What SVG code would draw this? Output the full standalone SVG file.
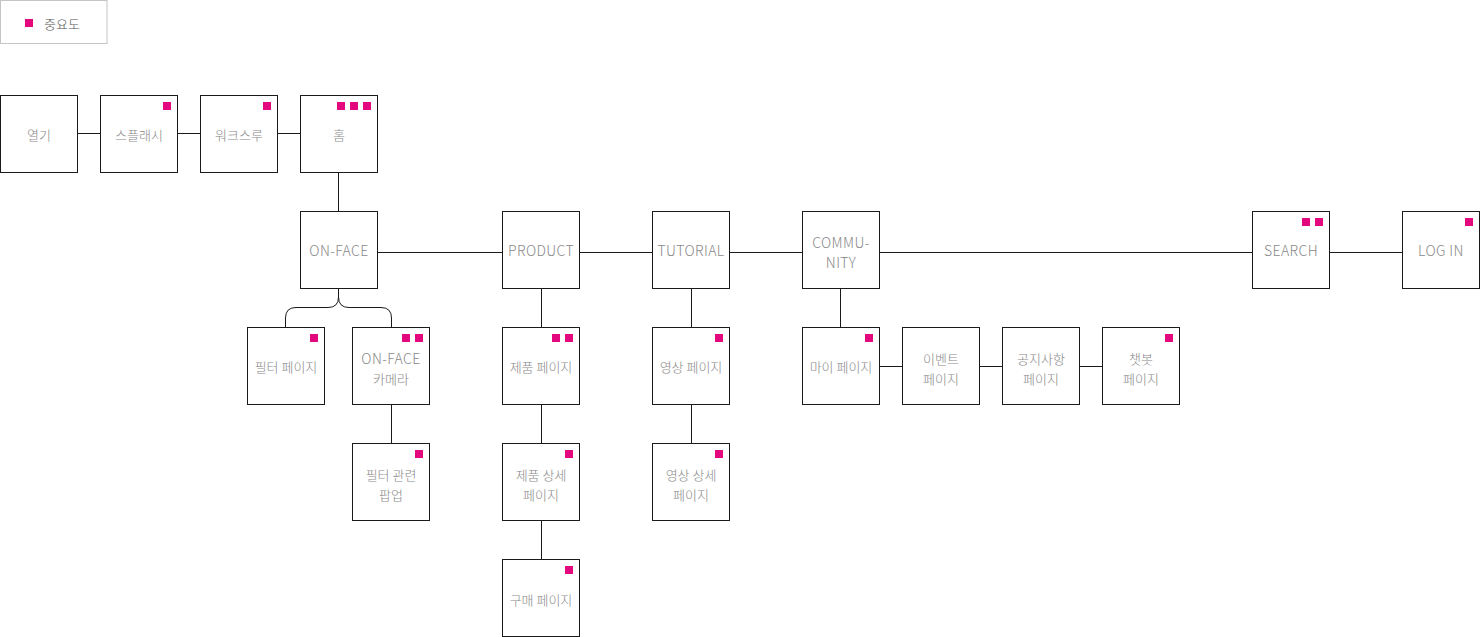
<svg xmlns="http://www.w3.org/2000/svg" width="1480" height="637" viewBox="0 0 1480 637">
<style>
.box{fill:#fff;stroke:#1a1a1a;stroke-width:1}
.sq{fill:#e4087f}
.t{font-family:"Noto Sans CJK KR","Noto Sans",sans-serif;font-weight:300;font-size:13px;fill:#888;text-anchor:middle;dominant-baseline:central}
.l{font-size:14px;letter-spacing:0.4px}
.ln{stroke:#1a1a1a;stroke-width:1;fill:none}
</style>
<rect width="1480" height="637" fill="#fff"/>
<g id="legend">
<rect x="0.5" y="0.5" width="106.5" height="43" fill="#fff" stroke="#c4c4c4"/>
<rect class="sq" x="25" y="19" width="8" height="8"/>
<text x="44" y="23.5" style="font-family:'Noto Sans CJK KR',sans-serif;font-weight:300;font-size:13px;fill:#555;dominant-baseline:central">중요도</text>
</g>
<g id="connectors">
<path class="ln" d="M77.5,133.5H100.5M177.5,133.5H200.5M277.5,133.5H300.5"/>
<path class="ln" d="M338.5,172.5V211.5"/>
<path class="ln" d="M377.5,252.5H502.5M579.5,252.5H652.5M729.5,252.5H802.5M879.5,252.5H1252.5M1329.5,252.5H1402.5"/>
<path class="ln" d="M338.5,288.5V297 Q338.5,307.5 328,307.5 H296 Q285.5,307.5 285.5,318 V327.5"/>
<path class="ln" d="M338.5,297 Q338.5,307.5 349,307.5 H381 Q391.5,307.5 391.5,318 V327.5"/>
<path class="ln" d="M391.5,404.5V443.5"/>
<path class="ln" d="M541.5,288.5V327.5M541.5,404.5V443.5M541.5,520.5V559.5"/>
<path class="ln" d="M691.5,288.5V327.5M691.5,404.5V443.5"/>
<path class="ln" d="M840.5,288.5V327.5"/>
<path class="ln" d="M879.5,366.5H902.5M979.5,366.5H1002.5M1079.5,366.5H1102.5"/>
</g>
<g id="n-open"><rect class="box" x="0.5" y="95.5" width="77" height="77"/><text class="t" x="39" y="134">열기</text></g>
<g id="n-splash"><rect class="box" x="100.5" y="95.5" width="77" height="77"/><rect class="sq" x="163" y="102" width="8" height="8"/><text class="t" x="139" y="134">스플래시</text></g>
<g id="n-walk"><rect class="box" x="200.5" y="95.5" width="77" height="77"/><rect class="sq" x="263" y="102" width="8" height="8"/><text class="t" x="239" y="134">워크스루</text></g>
<g id="n-home"><rect class="box" x="300.5" y="95.5" width="77" height="77"/><rect class="sq" x="337" y="102" width="8" height="8"/><rect class="sq" x="350" y="102" width="8" height="8"/><rect class="sq" x="363" y="102" width="8" height="8"/><text class="t" x="339" y="134">홈</text></g>
<g id="n-onface"><rect class="box" x="300.5" y="211.5" width="77" height="77"/><text class="t l" x="339" y="250">ON-FACE</text></g>
<g id="n-product"><rect class="box" x="502.5" y="211.5" width="77" height="77"/><text class="t l" x="541" y="250">PRODUCT</text></g>
<g id="n-tutorial"><rect class="box" x="652.5" y="211.5" width="77" height="77"/><text class="t l" x="691" y="250">TUTORIAL</text></g>
<g id="n-community"><rect class="box" x="802.5" y="211.5" width="77" height="77"/><text class="t l" x="841" y="242">COMMU-</text><text class="t l" x="841" y="262">NITY</text></g>
<g id="n-search"><rect class="box" x="1252.5" y="211.5" width="77" height="77"/><rect class="sq" x="1302" y="218" width="8" height="8"/><rect class="sq" x="1315" y="218" width="8" height="8"/><text class="t l" x="1291" y="250">SEARCH</text></g>
<g id="n-login"><rect class="box" x="1402.5" y="211.5" width="77" height="77"/><rect class="sq" x="1465" y="218" width="8" height="8"/><text class="t l" x="1441" y="250">LOG IN</text></g>
<g id="n-filter"><rect class="box" x="247.5" y="327.5" width="77" height="77"/><rect class="sq" x="310" y="334" width="8" height="8"/><text class="t" x="286" y="366">필터 페이지</text></g>
<g id="n-camera"><rect class="box" x="352.5" y="327.5" width="77" height="77"/><rect class="sq" x="402" y="334" width="8" height="8"/><rect class="sq" x="415" y="334" width="8" height="8"/><text class="t l" x="391" y="358">ON-FACE</text><text class="t" x="391" y="378">카메라</text></g>
<g id="n-popup"><rect class="box" x="352.5" y="443.5" width="77" height="77"/><rect class="sq" x="415" y="450" width="8" height="8"/><text class="t" x="391" y="474">필터 관련</text><text class="t" x="391" y="494">팝업</text></g>
<g id="n-prodpage"><rect class="box" x="502.5" y="327.5" width="77" height="77"/><rect class="sq" x="552" y="334" width="8" height="8"/><rect class="sq" x="565" y="334" width="8" height="8"/><text class="t" x="541" y="366">제품 페이지</text></g>
<g id="n-proddetail"><rect class="box" x="502.5" y="443.5" width="77" height="77"/><rect class="sq" x="565" y="450" width="8" height="8"/><text class="t" x="541" y="474">제품 상세</text><text class="t" x="541" y="494">페이지</text></g>
<g id="n-buy"><rect class="box" x="502.5" y="559.5" width="77" height="77"/><rect class="sq" x="565" y="566" width="8" height="8"/><text class="t" x="541" y="599">구매 페이지</text></g>
<g id="n-video"><rect class="box" x="652.5" y="327.5" width="77" height="77"/><rect class="sq" x="715" y="334" width="8" height="8"/><text class="t" x="691" y="366">영상 페이지</text></g>
<g id="n-videodetail"><rect class="box" x="652.5" y="443.5" width="77" height="77"/><rect class="sq" x="715" y="450" width="8" height="8"/><text class="t" x="691" y="474">영상 상세</text><text class="t" x="691" y="494">페이지</text></g>
<g id="n-my"><rect class="box" x="802.5" y="327.5" width="77" height="77"/><rect class="sq" x="865" y="334" width="8" height="8"/><text class="t" x="841" y="366">마이 페이지</text></g>
<g id="n-event"><rect class="box" x="902.5" y="327.5" width="77" height="77"/><text class="t" x="941" y="358">이벤트</text><text class="t" x="941" y="378">페이지</text></g>
<g id="n-notice"><rect class="box" x="1002.5" y="327.5" width="77" height="77"/><text class="t" x="1041" y="358">공지사항</text><text class="t" x="1041" y="378">페이지</text></g>
<g id="n-chatbot"><rect class="box" x="1102.5" y="327.5" width="77" height="77"/><rect class="sq" x="1165" y="334" width="8" height="8"/><text class="t" x="1141" y="358">챗봇</text><text class="t" x="1141" y="378">페이지</text></g>
</svg>
